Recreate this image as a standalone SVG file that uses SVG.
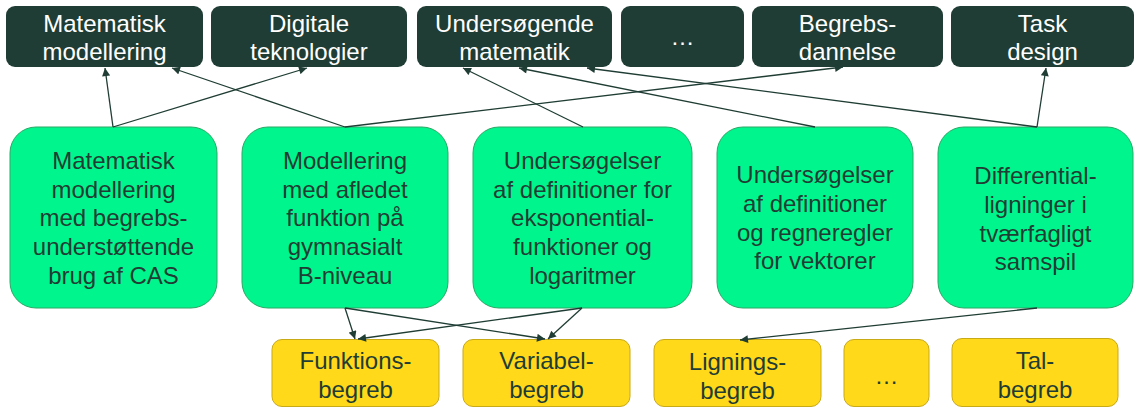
<svg xmlns="http://www.w3.org/2000/svg" width="1138" height="408" viewBox="0 0 1138 408">
<defs>
<style>
.top rect{fill:#1f3d34;}
.top text{fill:#ffffff;}
.mid rect{fill:#00f68c;stroke:#2aa866;stroke-width:1;}
.bot rect{fill:#ffd91a;stroke:#c8a916;stroke-width:1;}
text{font-family:"Liberation Sans",Arial,sans-serif;font-size:24px;text-anchor:middle;fill:#1f3d34;}
#connectors line{stroke:#1f3d34;stroke-width:1.3;marker-end:url(#arr);}
</style>
<marker id="arr" viewBox="0 0 10 10" refX="10" refY="5" markerWidth="9" markerHeight="8" markerUnits="userSpaceOnUse" orient="auto">
<path d="M0,0 L10,5 L0,10 z" fill="#1f3d34"/>
</marker>
</defs>
<rect width="1138" height="408" fill="#ffffff"/>

<g id="t1" class="top"><rect x="6" y="6" width="197" height="61" rx="9"/><text x="104.5" y="32">Matematisk</text><text x="104.5" y="60">modellering</text></g>
<g id="t2" class="top"><rect x="211" y="6" width="196" height="61" rx="9"/><text x="309" y="32">Digitale</text><text x="309" y="60">teknologier</text></g>
<g id="t3" class="top"><rect x="417" y="6" width="195" height="61" rx="9"/><text x="514.5" y="32">Undersøgende</text><text x="514.5" y="60">matematik</text></g>
<g id="t4" class="top"><rect x="621" y="6" width="123" height="61" rx="9"/><text x="682.5" y="45">…</text></g>
<g id="t5" class="top"><rect x="752" y="6" width="191" height="61" rx="9"/><text x="847.5" y="32">Begrebs-</text><text x="847.5" y="60">dannelse</text></g>
<g id="t6" class="top"><rect x="951" y="6" width="183" height="61" rx="9"/><text x="1042.5" y="32">Task</text><text x="1042.5" y="60">design</text></g>

<g id="m1" class="mid"><rect x="10" y="127" width="207" height="181" rx="26"/>
<text x="113.5" y="169">Matematisk</text><text x="113.5" y="197.5">modellering</text><text x="113.5" y="226">med begrebs-</text><text x="113.5" y="255">understøttende</text><text x="113.5" y="284">brug af CAS</text></g>
<g id="m2" class="mid"><rect x="242" y="127" width="206" height="181" rx="26"/>
<text x="345" y="169">Modellering</text><text x="345" y="197.5">med afledet</text><text x="345" y="226">funktion på</text><text x="345" y="255">gymnasialt</text><text x="345" y="284">B-niveau</text></g>
<g id="m3" class="mid"><rect x="473" y="127" width="219" height="181" rx="26"/>
<text x="582.5" y="169">Undersøgelser</text><text x="582.5" y="197.5">af definitioner for</text><text x="582.5" y="226">eksponential-</text><text x="582.5" y="255">funktioner og</text><text x="582.5" y="284">logaritmer</text></g>
<g id="m4" class="mid"><rect x="717" y="127" width="196" height="181" rx="26"/>
<text x="815" y="183">Undersøgelser</text><text x="815" y="212">af definitioner</text><text x="815" y="240.5">og regneregler</text><text x="815" y="269">for vektorer</text></g>
<g id="m5" class="mid"><rect x="938" y="127" width="195" height="181" rx="26"/>
<text x="1035.5" y="184">Differential-</text><text x="1035.5" y="213">ligninger i</text><text x="1035.5" y="241.5">tværfagligt</text><text x="1035.5" y="270">samspil</text></g>

<g id="b1" class="bot"><rect x="272" y="339.5" width="167" height="67" rx="10"/><text x="355.5" y="369">Funktions-</text><text x="355.5" y="398">begreb</text></g>
<g id="b2" class="bot"><rect x="463" y="339.5" width="167" height="67" rx="10"/><text x="546.5" y="369">Variabel-</text><text x="546.5" y="398">begreb</text></g>
<g id="b3" class="bot"><rect x="654" y="339.5" width="167" height="67" rx="10"/><text x="737.5" y="370">Lignings-</text><text x="737.5" y="399">begreb</text></g>
<g id="b4" class="bot"><rect x="844" y="339.5" width="85" height="67" rx="10"/><text x="886.5" y="384">…</text></g>
<g id="b5" class="bot"><rect x="952" y="338.5" width="166" height="68" rx="10"/><text x="1035" y="369">Tal-</text><text x="1035" y="398">begreb</text></g>

<g id="connectors">
<line x1="113" y1="127" x2="105" y2="68"/>
<line x1="113" y1="127" x2="307" y2="68"/>
<line x1="345" y1="127" x2="172" y2="68"/>
<line x1="345" y1="127" x2="843" y2="67"/>
<line x1="583" y1="127" x2="463" y2="68"/>
<line x1="815" y1="127" x2="519" y2="68"/>
<line x1="1037" y1="127" x2="587" y2="68"/>
<line x1="1037" y1="127" x2="1046" y2="68"/>
<line x1="345" y1="308" x2="355" y2="339"/>
<line x1="345" y1="308" x2="545" y2="339"/>
<line x1="582" y1="308" x2="358" y2="339"/>
<line x1="582" y1="308" x2="548" y2="339"/>
<line x1="1037" y1="308" x2="740" y2="340"/>
</g>
</svg>
